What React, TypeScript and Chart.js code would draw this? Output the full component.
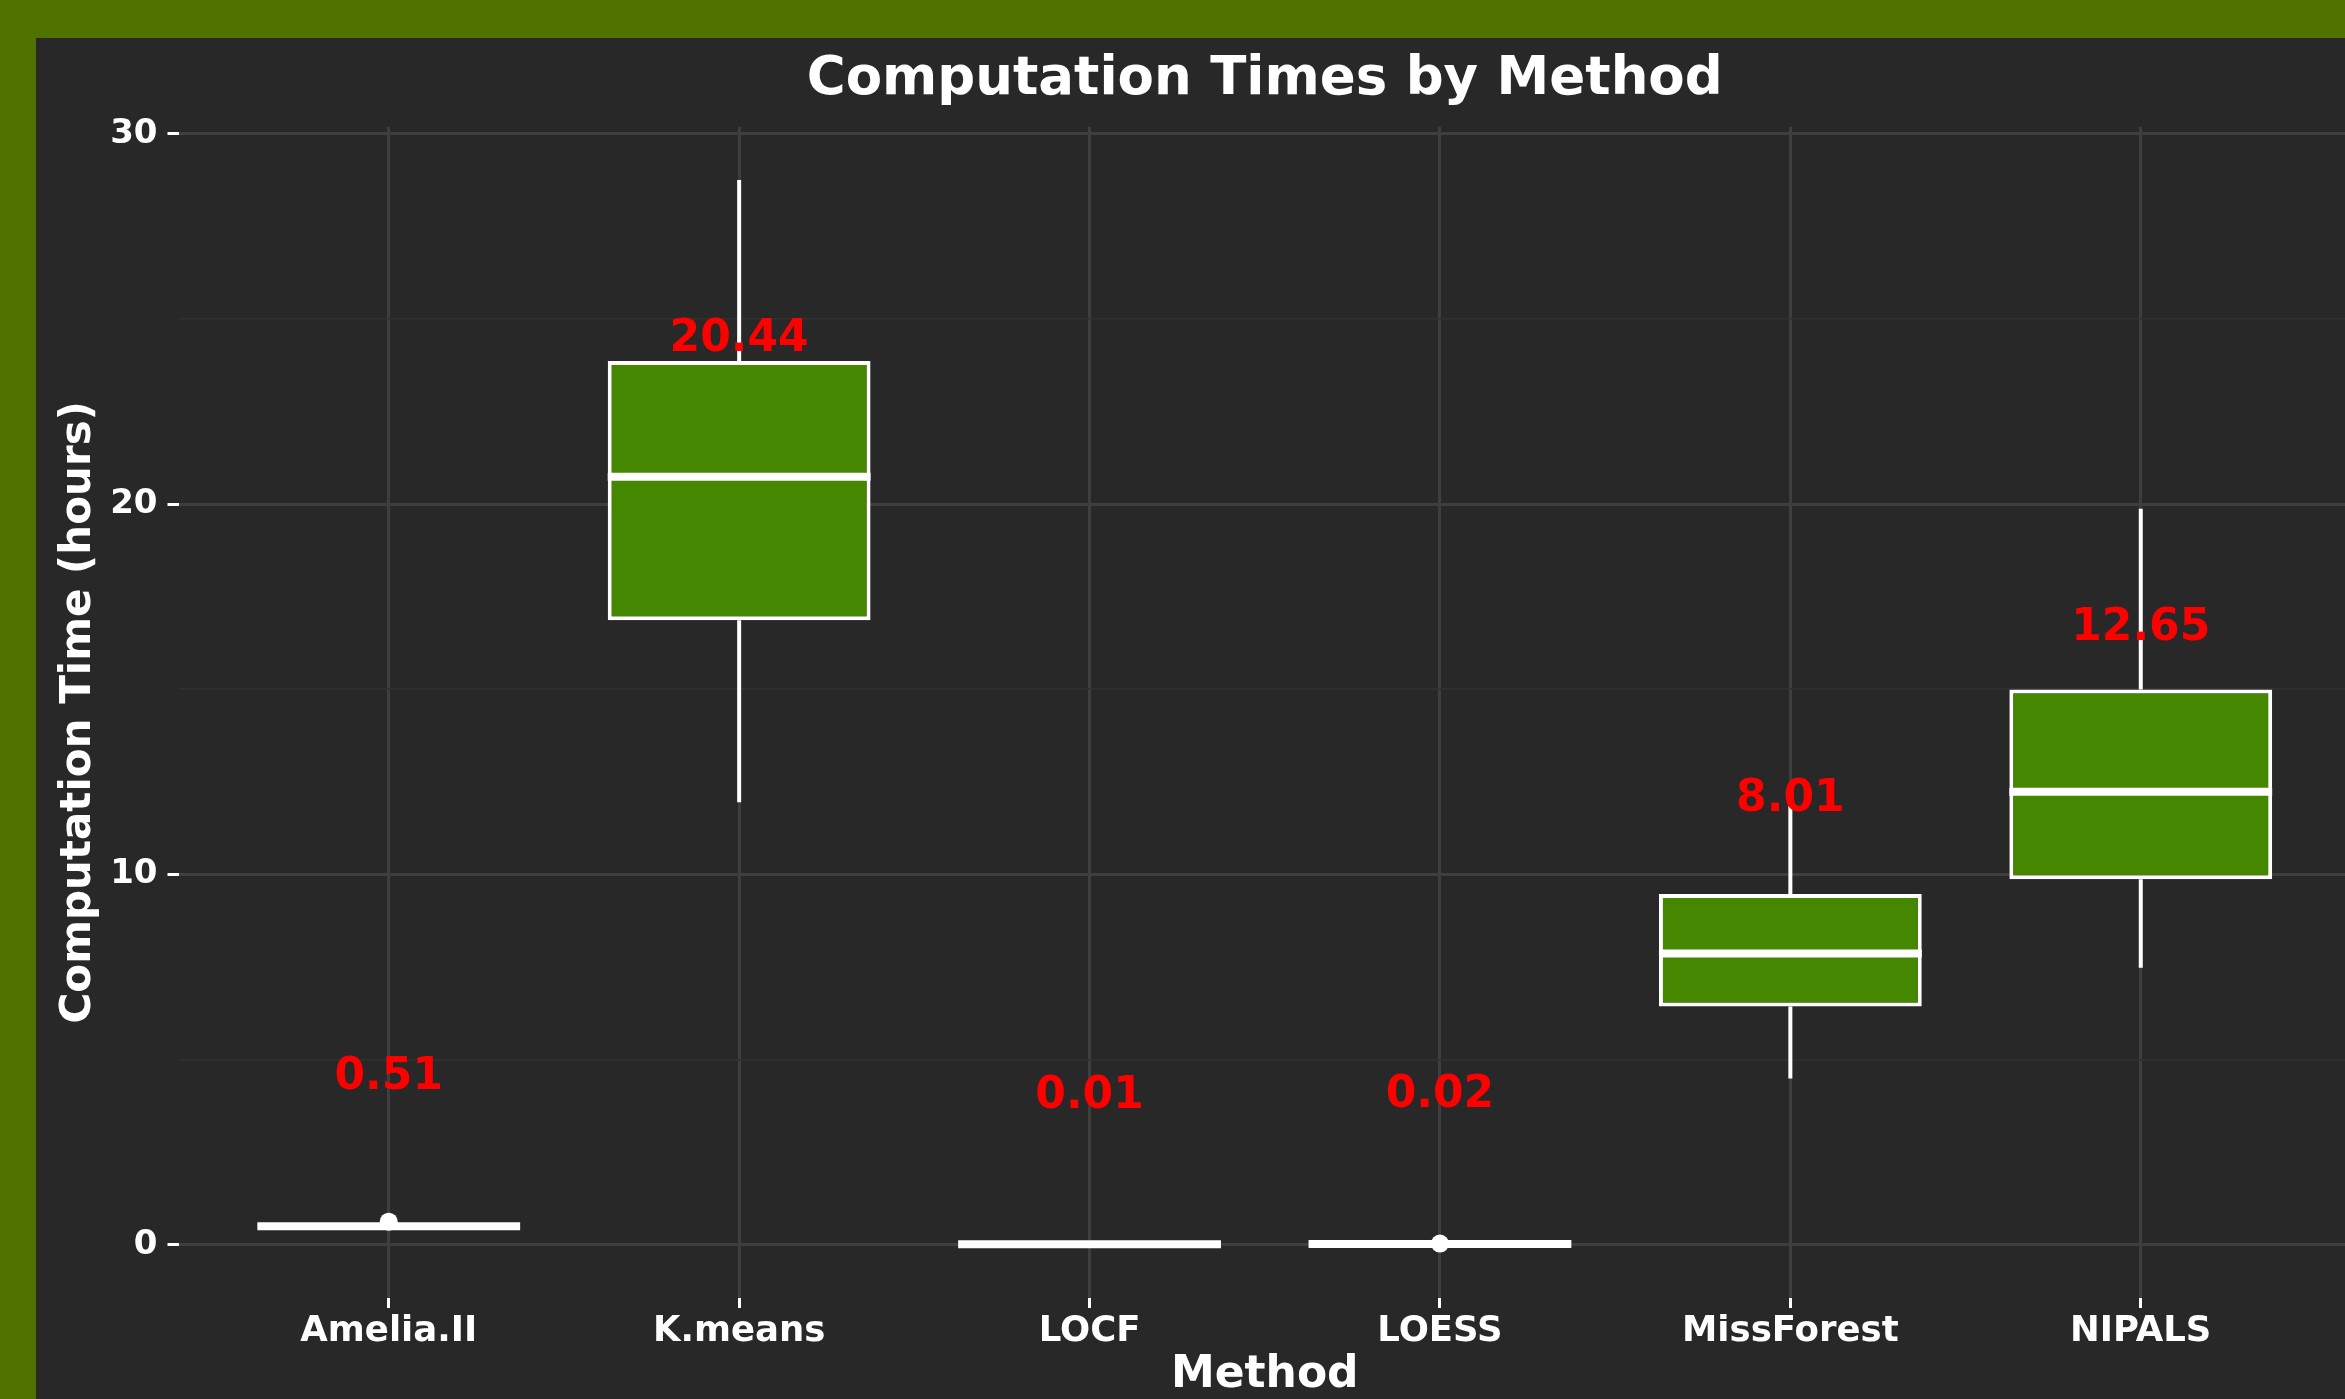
import React, { useEffect, useRef } from 'react';
import { Chart, registerables } from 'chart.js';

Chart.register(...registerables);

// ---------- data ----------
const methods = ['Amelia.II', 'K.means', 'LOCF', 'LOESS', 'MissForest', 'NIPALS'];
const whiskerLow = [0.47, 11.95, 0.01, 0.02, 4.49, 7.48];
const q1 = [0.49, 16.86, 0.01, 0.02, 6.43, 9.87];
const median = [0.5, 20.74, 0.01, 0.02, 7.86, 12.23];
const q3 = [0.51, 23.86, 0.01, 0.02, 9.47, 14.99];
const whiskerHigh = [0.53, 28.75, 0.01, 0.02, 12.4, 19.87];
const means = [0.51, 20.44, 0.01, 0.02, 8.01, 12.65];
const outlierMethod = ['Amelia.II', 'LOESS'];
const outlierValue = [0.62, 0.03];
const yMajorTicks = [0, 10, 20, 30];
const yMinorTicks = [5, 15, 25];

// ---------- style ----------
const FONT = '"DejaVu Sans", "Liberation Sans", sans-serif';
const GREEN_FRAME = '#507300';
const PANEL_BG = '#282828';
const BOX_FILL = '#458800';
const GRID_MAJOR = '#3e3e3e';
const GRID_MINOR = '#313131';
const WHITE = '#ffffff';
const LABEL_OFFSET = 4;

const boxDecor = {
  id: 'boxDecor',
  afterDatasetsDraw(chart: any) {
    const { ctx, chartArea, scales } = chart;
    const x = scales.x;
    const y = scales.y;
    const meta = chart.getDatasetMeta(0);
    ctx.save();
    ctx.beginPath();
    ctx.rect(chartArea.left, chartArea.top, chartArea.right - chartArea.left, chartArea.bottom - chartArea.top);
    ctx.clip();
    ctx.strokeStyle = WHITE;
    ctx.lineCap = 'butt';
    methods.forEach((_, i) => {
      const bar = meta.data[i];
      const cx = x.getPixelForValue(i + 1);
      const half = bar.width / 2;
      ctx.lineWidth = 4;
      ctx.beginPath();
      ctx.moveTo(cx, y.getPixelForValue(whiskerLow[i]));
      ctx.lineTo(cx, y.getPixelForValue(q1[i]));
      ctx.moveTo(cx, y.getPixelForValue(q3[i]));
      ctx.lineTo(cx, y.getPixelForValue(whiskerHigh[i]));
      ctx.stroke();
      ctx.lineWidth = 8;
      const my = y.getPixelForValue(median[i]);
      ctx.beginPath();
      ctx.moveTo(cx - half, my);
      ctx.lineTo(cx + half, my);
      ctx.stroke();
    });
    ctx.restore();
  },
};

const meanLabels = {
  id: 'meanLabels',
  afterDraw(chart: any) {
    const { ctx, scales } = chart;
    ctx.save();
    ctx.fillStyle = '#ff0000';
    ctx.font = `bold 44px ${FONT}`;
    ctx.textAlign = 'center';
    ctx.textBaseline = 'middle';
    means.forEach((m, i) => {
      ctx.fillText(m.toFixed(2), scales.x.getPixelForValue(i + 1), scales.y.getPixelForValue(m + LABEL_OFFSET));
    });
    ctx.restore();
  },
};

export default function App() {
  const ref = useRef<HTMLCanvasElement | null>(null);

  useEffect(() => {
    if (!ref.current) return;
    const allYTicks = [...yMajorTicks, ...yMinorTicks].sort((a, b) => a - b);
    const isMajor = (v: any) => yMajorTicks.includes(v);
    const chart = new Chart(ref.current, {
      type: 'bar',
      data: {
        datasets: [
          {
            type: 'bar',
            label: 'IQR',
            data: methods.map((_, i) => ({ x: i + 1, y: [q1[i], q3[i]] })) as any,
            backgroundColor: BOX_FILL,
            borderColor: WHITE,
            borderWidth: 4,
            borderSkipped: false,
            barPercentage: 0.75,
            categoryPercentage: 1,
          } as any,
          {
            type: 'scatter',
            label: 'Outliers',
            data: outlierMethod.map((m, i) => ({ x: methods.indexOf(m) + 1, y: outlierValue[i] })),
            backgroundColor: WHITE,
            borderColor: WHITE,
            borderWidth: 0,
            pointRadius: 9,
          } as any,
        ],
      },
      options: {
        responsive: false,
        animation: false,
        devicePixelRatio: 1,
        layout: { padding: { left: 0, right: 15, top: 0, bottom: 0 } },
        plugins: {
          legend: { display: false },
          tooltip: { enabled: false },
          title: {
            display: true,
            text: 'Computation Times by Method',
            color: WHITE,
            fullSize: false,
            font: { family: FONT, size: 53, weight: 'bold', lineHeight: 1.2 },
            padding: { top: 10.6, bottom: 14.5 },
          },
        },
        scales: {
          x: {
            type: 'linear',
            min: 0.4,
            max: 6.6,
            offset: false,
            afterBuildTicks: (s: any) => {
              s.ticks = methods.map((_, i) => ({ value: i + 1 }));
            },
            afterFit: (s: any) => {
              s.height = 140;
            },
            ticks: {
              autoSkip: false,
              maxRotation: 0,
              minRotation: 0,
              padding: 2,
              color: WHITE,
              font: { family: FONT, size: 35.5, weight: 'bold' },
              callback: (v: any) => methods[Math.round(v) - 1] ?? '',
            },
            grid: {
              color: GRID_MAJOR,
              lineWidth: 3,
              tickLength: 10,
              tickColor: WHITE,
              tickWidth: 3,
              offset: false,
            },
            border: { display: false },
            title: {
              display: true,
              text: 'Method',
              color: WHITE,
              font: { family: FONT, size: 44, weight: 'bold', lineHeight: 1.2 },
              padding: { top: 0, bottom: 36 },
            },
          } as any,
          y: {
            type: 'linear',
            min: -1.44,
            max: 30.19,
            afterBuildTicks: (s: any) => {
              s.ticks = allYTicks.map((v) => ({ value: v }));
            },
            afterFit: (s: any) => {
              s.width = 142.5;
            },
            ticks: {
              padding: 10,
              color: WHITE,
              font: { family: FONT, size: 34, weight: 'bold' },
              callback: (v: any) => (isMajor(v) ? String(v) : ''),
            },
            grid: {
              color: (c: any) => (isMajor(c.tick?.value) ? GRID_MAJOR : GRID_MINOR),
              lineWidth: (c: any) => (isMajor(c.tick?.value) ? 3 : 1.5),
              tickLength: 11,
              tickColor: (c: any) => (isMajor(c.tick?.value) ? WHITE : 'rgba(0,0,0,0)'),
              tickWidth: 3,
            },
            border: { display: false },
            title: {
              display: true,
              text: 'Computation Time (hours)',
              color: WHITE,
              font: { family: FONT, size: 42, weight: 'bold', lineHeight: 1.2 },
              padding: { top: 18, bottom: 0 },
            },
          } as any,
        },
      } as any,
      plugins: [boxDecor, meanLabels],
    });
    return () => chart.destroy();
  }, []);

  return (
    <div
      style={{
        position: 'fixed',
        left: 0,
        top: 0,
        width: '100vw',
        height: '100vh',
        overflow: 'hidden',
        background: GREEN_FRAME,
      }}
    >
      <div
        style={{
          position: 'absolute',
          left: 36,
          top: 38,
          right: 0,
          bottom: 0,
          overflow: 'hidden',
          background: PANEL_BG,
        }}
      >
        <canvas ref={ref} width={2330} height={1400} style={{ display: 'block', width: 2330, height: 1400 }} />
      </div>
    </div>
  );
}
